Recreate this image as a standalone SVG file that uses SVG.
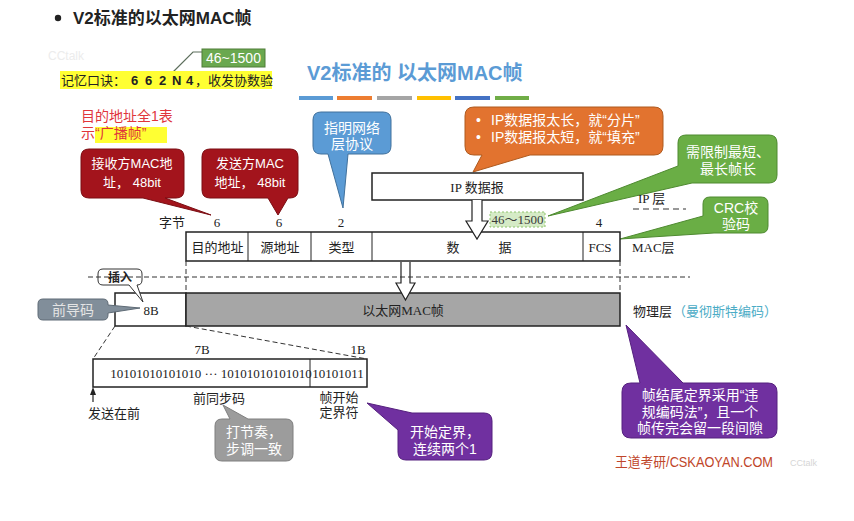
<svg xmlns="http://www.w3.org/2000/svg" width="854" height="521" viewBox="0 0 854 521">
<style>
.sans{font-family:"Liberation Sans","Noto Sans CJK SC",sans-serif}
.serif{font-family:"Liberation Serif","Noto Sans CJK SC",serif;fill:#222}
.wt{fill:#fff;font-size:13px;text-anchor:middle}
.cw{fill:#fff;font-size:14px;text-anchor:middle}
.box{fill:#fff;stroke:#222;stroke-width:1.5}
.dash{stroke:#333;stroke-width:1;stroke-dasharray:5,3;fill:none}
.red{fill:#a3141c;stroke:#7a0d12;stroke-width:1}
.blue{fill:#5b9bd5;stroke:#41719c;stroke-width:1}
.orange{fill:#e2732f;stroke:#ae5a1f;stroke-width:1}
.green{fill:#6aae45;stroke:#4e8a30;stroke-width:1}
.purple{fill:#7030a0;stroke:#55207e;stroke-width:1}
.grey{fill:#9c9c9c;stroke:#7f7f7f;stroke-width:1}
.t13{font-size:13px}
.mid{text-anchor:middle}
</style>

<g id="header">
<circle cx="58" cy="18" r="3.2" fill="#222"/>
<text x="73" y="24" class="sans" font-size="17" font-weight="bold" fill="#222">V2标准的以太网MAC帧</text>
<text x="48" y="60" class="sans" font-size="12" fill="#ececec">CCtalk</text>
</g>

<g id="mnemonic">
<polyline points="171,74 193,52 202,52" fill="none" stroke="#5d6f5d" stroke-width="1.2"/>
<rect x="202" y="49" width="63" height="18" fill="#6aa84f" stroke="#4e7d38" stroke-width="1"/>
<text x="233.5" y="63" class="sans" font-size="14" fill="#fff" text-anchor="middle">46~1500</text>
<rect x="60" y="71" width="212" height="18" fill="#ffff33"/>
<text y="85" class="sans" font-size="13" fill="#222"><tspan x="61">记忆口诀：</tspan><tspan x="131" font-weight="bold">6</tspan><tspan x="145" font-weight="bold">6</tspan><tspan x="159" font-weight="bold">2</tspan><tspan x="172" font-weight="bold">N</tspan><tspan x="186" font-weight="bold">4</tspan><tspan x="195">，收发协数验</tspan></text>
</g>

<g id="title">
<text x="307" y="80" class="sans" font-size="20" font-weight="bold" fill="#5b9bd5">V2标准的 以太网MAC帧</text>
<rect x="299" y="96" width="34" height="4" fill="#5b9bd5"/>
<rect x="337" y="96" width="35" height="4" fill="#ed7d31"/>
<rect x="377" y="96" width="35" height="4" fill="#a5a5a5"/>
<rect x="417" y="96" width="34" height="4" fill="#ffc000"/>
<rect x="455" y="96" width="35" height="4" fill="#4472c4"/>
<rect x="495" y="96" width="34" height="4" fill="#70ad47"/>
</g>

<g id="broadcast-note">
<rect x="95" y="127" width="72" height="16" fill="#ffff33"/>
<text x="81" y="121" class="sans" font-size="14" fill="#e0353b">目的地址全1表</text>
<text x="81" y="138" class="sans" font-size="14" fill="#e0353b">示“广播帧”</text>
</g>

<g id="callout-dst">
<path class="red" d="M89,149 H176 Q184,149 184,157 V190 Q184,198 176,198 H165 L211,215 L143,198 H89 Q81,198 81,190 V157 Q81,149 89,149 Z"/>
<text x="132" y="168" class="sans wt">接收方MAC地</text>
<text x="132" y="187" class="sans wt">址， 48bit</text>
</g>

<g id="callout-src">
<path class="red" d="M210,149 H290 Q298,149 298,157 V190 Q298,198 290,198 H288 L278,215 L268,198 H210 Q202,198 202,190 V157 Q202,149 210,149 Z"/>
<text x="250" y="168" class="sans wt">发送方MAC</text>
<text x="250" y="187" class="sans wt">地址， 48bit</text>
</g>

<g id="callout-type">
<path class="blue" d="M321,112 H383 Q391,112 391,120 V146 Q391,154 383,154 H348 L343,208 L328,154 H321 Q313,154 313,146 V120 Q313,112 321,112 Z"/>
<text x="352" y="133" class="sans cw">指明网络</text>
<text x="352" y="149" class="sans cw">层协议</text>
</g>

<g id="callout-ip">
<path class="orange" d="M474,107 H654 Q663,107 663,116 V146 Q663,155 654,155 H530 L473,172 L482,155 H474 Q465,155 465,146 V116 Q465,107 474,107 Z"/>
<text x="476" y="125" class="sans" font-size="14" fill="#fff">•</text>
<text x="491" y="125" class="sans" font-size="14" fill="#fff">IP数据报太长，就“分片”</text>
<text x="476" y="142" class="sans" font-size="14" fill="#fff">•</text>
<text x="491" y="142" class="sans" font-size="14" fill="#fff">IP数据报太短，就“填充”</text>
</g>

<g id="callout-len">
<path class="green" d="M686,135 H769 Q777,135 777,143 V175 Q777,183 769,183 H692 L548,216 L678,166 V143 Q678,135 686,135 Z"/>
<text x="728" y="157" class="sans cw">需限制最短、</text>
<text x="728" y="174" class="sans cw">最长帧长</text>
</g>

<g id="callout-crc">
<path class="green" d="M710,197 H761 Q768,197 768,204 V226 Q768,233 761,233 H714 L620,239 L703,216 V204 Q703,197 710,197 Z"/>
<text x="736" y="213" class="sans cw">CRC校</text>
<text x="736" y="229" class="sans cw">验码</text>
</g>

<g id="ip-datagram">
<rect x="372" y="173" width="211" height="27" class="box"/>
<text x="477" y="192" class="serif t13 mid">IP 数据报</text>
<text x="638" y="203" class="serif t13">IP 层</text>
<line x1="633" y1="209" x2="686" y2="209" stroke="#333" stroke-width="1.2" stroke-dasharray="6,4"/>
</g>

<g id="len-label">
<rect x="490" y="212" width="55" height="15" fill="#d5ebc6" stroke="#8fc46c" stroke-width="1" stroke-dasharray="2,2"/>
<text x="517.5" y="224" class="serif t13 mid" style="fill:#3a3a3a">46～1500</text>
</g>

<g id="mac-frame">
<text x="172" y="227" class="serif t13 mid">字节</text>
<text x="217" y="227" class="serif t13 mid">6</text>
<text x="279" y="227" class="serif t13 mid">6</text>
<text x="341" y="227" class="serif t13 mid">2</text>
<text x="599" y="227" class="serif t13 mid">4</text>
<rect x="186" y="232" width="434" height="29" class="box"/>
<line x1="248" y1="232" x2="248" y2="261" stroke="#222"/>
<line x1="311" y1="232" x2="311" y2="261" stroke="#222"/>
<line x1="372" y1="232" x2="372" y2="261" stroke="#222"/>
<line x1="583" y1="232" x2="583" y2="261" stroke="#222"/>
<text x="217.5" y="252" class="serif t13 mid">目的地址</text>
<text x="280" y="252" class="serif t13 mid">源地址</text>
<text x="341.5" y="252" class="serif t13 mid">类型</text>
<text x="453" y="252" class="serif t13 mid">数</text>
<text x="505" y="252" class="serif t13 mid">据</text>
<text x="600" y="252" class="serif t13 mid">FCS</text>
<text x="632" y="252" class="serif t13">MAC层</text>
</g>

<g id="physical">
<rect x="115" y="293" width="71" height="33" class="box"/>
<rect x="186" y="293" width="434" height="33" fill="#a6a6a6" stroke="#222" stroke-width="1.5"/>
<text x="151" y="315" class="serif t13 mid">8B</text>
<text x="403" y="315" class="serif t13 mid">以太网MAC帧</text>
<text x="633" y="316" class="serif t13">物理层</text>
<text x="673" y="316" class="serif t13" style="fill:#4bacc6">（曼彻斯特编码）</text>
</g>

<g id="insert-label">
<path d="M103,269 H137 Q142,269 142,274 V280 Q142,285 137,285 L143,302 L129,285 H103 Q98,285 98,280 V274 Q98,269 103,269 Z" fill="#fff" stroke="#333" stroke-width="1"/>
<text x="120" y="282" class="serif" font-size="12" font-weight="bold" text-anchor="middle">插入</text>
</g>

<g id="callout-preamble">
<path d="M43,299 H103 Q108,299 108,304 V305 L140,308 L108,313 V315 Q108,320 103,320 H43 Q38,320 38,315 V304 Q38,299 43,299 Z" fill="#818e9a" stroke="#5f6b76" stroke-width="1"/>
<text x="73" y="315" class="sans" font-size="14" fill="#e4e4e4" text-anchor="middle">前导码</text>
</g>

<g id="preamble">
<text x="202" y="354" class="serif t13 mid">7B</text>
<text x="358" y="354" class="serif t13 mid">1B</text>
<rect x="93" y="359" width="274" height="28" class="box"/>
<line x1="310" y1="359" x2="310" y2="387" stroke="#222"/>
<text x="211" y="378" class="serif t13 mid">10101010101010 ··· 10101010101010</text>
<text x="338" y="378" class="serif t13 mid">10101011</text>
<text x="219" y="403" class="serif t13 mid">前同步码</text>
<text x="339" y="402" class="serif t13 mid">帧开始</text>
<text x="339" y="417" class="serif t13 mid">定界符</text>
<text x="114" y="418" class="serif t13 mid">发送在前</text>
<line x1="93" y1="402" x2="93" y2="393" stroke="#222" stroke-width="1.2"/>
<polygon points="93,387 90,395 96,395" fill="#222"/>
</g>

<g id="callout-rhythm">
<path class="grey" d="M222,419 H230 L223,405 L248,419 H286 Q293,419 293,426 V454 Q293,461 286,461 H222 Q215,461 215,454 V426 Q215,419 222,419 Z"/>
<text x="254" y="437" class="sans cw">打节奏，</text>
<text x="254" y="454" class="sans cw">步调一致</text>
</g>

<g id="callout-sfd">
<path class="purple" d="M412,413 H484 Q492,413 492,421 V452 Q492,460 484,460 H406 Q398,460 398,452 V430 L367,403 Z"/>
<text x="445" y="437" class="sans cw">开始定界，</text>
<text x="445" y="454" class="sans cw">连续两个1</text>
</g>

<g id="callout-end">
<path class="purple" d="M631,383 H640 L626,325 L683,383 H768 Q777,383 777,392 V429 Q777,438 768,438 H631 Q622,438 622,429 V392 Q622,383 631,383 Z"/>
<text x="700" y="400" class="sans cw">帧结尾定界采用“违</text>
<text x="700" y="417" class="sans cw">规编码法”，且一个</text>
<text x="700" y="433" class="sans cw">帧传完会留一段间隙</text>
</g>

<g id="connectors">
<path d="M472,200 V221 H466 L477,239 L488,221 H482 V200" fill="#fff" stroke="#222" stroke-width="1.2"/>
<path d="M401,262 V283 H396 L405.5,300 L415,283 H410 V262" fill="#fff" stroke="#222" stroke-width="1.2"/>
<line x1="88" y1="277" x2="690" y2="277" class="dash" stroke-dasharray="4,3"/>
<line x1="186" y1="261" x2="186" y2="293" class="dash" stroke-dasharray="6,2"/>
<line x1="620" y1="261" x2="620" y2="293" class="dash" stroke-dasharray="6,2"/>
<line x1="115" y1="326" x2="93" y2="359" class="dash" stroke-dasharray="7,4"/>
<line x1="186" y1="326" x2="367" y2="359" class="dash" stroke-dasharray="7,4"/>
</g>

<g id="footer">
<text x="615" y="467" class="sans" font-size="14" fill="#c0462a" textLength="158" lengthAdjust="spacingAndGlyphs">王道考研/CSKAOYAN.COM</text>
<text x="790" y="466" class="sans" font-size="9" fill="#d6d6d6">CCtalk</text>
</g>
</svg>
